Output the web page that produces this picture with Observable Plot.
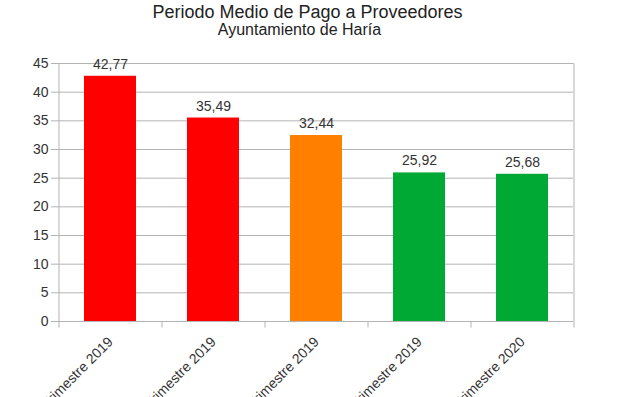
<!DOCTYPE html>
<html>
<head>
<meta charset="utf-8">
<script src="https://cdn.jsdelivr.net/npm/d3@7"></script>
<script src="https://cdn.jsdelivr.net/npm/@observablehq/plot@0.6"></script>
<style>
  html, body { margin: 0; padding: 0; background: #fff; overflow: hidden; }
  body { width: 625px; height: 397px; position: relative; font-family: "Liberation Sans", Arial, sans-serif; }
  #head { position: relative; height: 42px; }
  #title { position: absolute; left: 0; top: 3px; width: 615px; text-align: center; font-size: 18px; line-height: 18px; color: #222; white-space: nowrap; }
  #subtitle { position: absolute; left: 0; top: 22px; width: 599px; text-align: center; font-size: 16px; line-height: 16px; color: #222; white-space: nowrap; }
  #chart svg { display: block; }
</style>
</head>
<body>
<div id="head">
  <div id="title">Periodo Medio de Pago a Proveedores</div>
  <div id="subtitle">Ayuntamiento de Haría</div>
</div>
<div id="chart"></div>
<script>
const categories = ["1er Trimestre 2019", "2º Trimestre 2019", "3er Trimestre 2019", "4º Trimestre 2019", "1er Trimestre 2020"];
const values = [42.77, 35.49, 32.44, 25.92, 25.68];
const barColors = ["#ff0000", "#ff0000", "#ff8000", "#00a933", "#00a933"];
const yTicks = [0, 5, 10, 15, 20, 25, 30, 35, 40, 45];

const data = categories.map((c, i) => ({cat: c, value: values[i], color: barColors[i]}));
const fmt = v => d3.format(".2f")(v).replace(".", ",");

const W = 625, H = 355;
const mL = 58, mR = 52, mT = 21, mB = 76;
const step = (W - mL - mR) / categories.length;
const gray = "#b3b3b3";

const chart = Plot.plot({
  width: W,
  height: H,
  marginLeft: mL,
  marginRight: mR,
  marginTop: mT,
  marginBottom: mB,
  style: {fontFamily: "'Liberation Sans', Arial, sans-serif", fontSize: "14px", color: "#333", background: "#fff", overflow: "hidden"},
  x: {domain: categories, paddingInner: 0.5, paddingOuter: 0.25, axis: null},
  y: {domain: [0, 45], axis: null},
  marks: [
    Plot.ruleY(yTicks, {y: d => d, stroke: gray, strokeWidth: 1}),
    Plot.ruleX(categories, {x: d => d, dx: -step / 2, y1: 0, y2: -1.15, stroke: gray}),
    Plot.ruleX([categories[categories.length - 1]], {x: d => d, dx: step / 2, y1: 0, y2: -1.15, stroke: gray}),
    Plot.ruleX([categories[0]], {x: d => d, dx: -step / 2, y1: 0, y2: 45, stroke: gray}),
    Plot.ruleX([categories[categories.length - 1]], {x: d => d, dx: step / 2, y1: 0, y2: 45, stroke: gray}),
    Plot.barY(data, {x: "cat", y: "value", fill: "color"}),
    Plot.text(data, {x: "cat", y: "value", text: d => fmt(d.value), dy: -12, fill: "#333", fontSize: 14}),
    Plot.axisY({ticks: yTicks, tickSize: 7, tickPadding: 3, stroke: gray, fill: "#333", fontSize: 14, tickFormat: d => d, label: null}),
    Plot.axisX({tickRotate: -45, tickSize: 0, tickPadding: 18, fill: "#333", fontSize: 14, label: null})
  ]
});
document.getElementById("chart").appendChild(chart);
</script>
</body>
</html>
